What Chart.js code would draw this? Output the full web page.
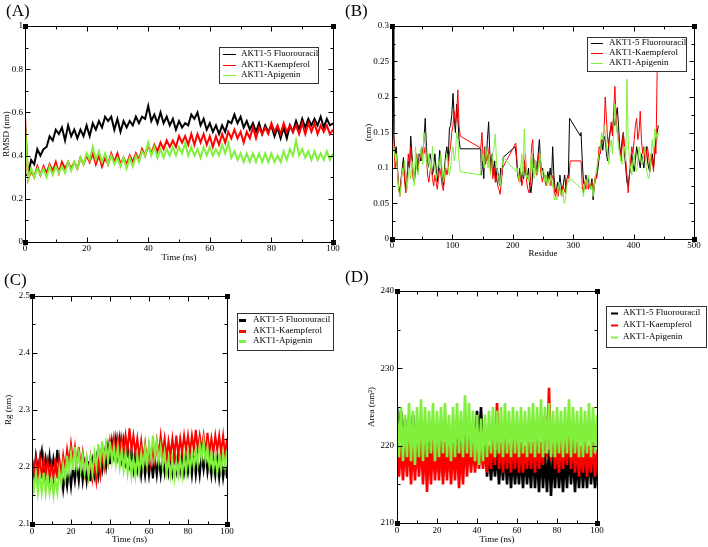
<!DOCTYPE html>
<html><head><meta charset="utf-8">
<script src="https://cdn.jsdelivr.net/npm/chart.js@4.4.1/dist/chart.umd.min.js"></script>
<style>
html,body{margin:0;padding:0;background:#fff;}
body{width:708px;height:547px;position:relative;overflow:hidden;}
canvas{position:absolute;}
</style></head><body>
<canvas id="cA" width="354" height="270" style="left:0;top:0"></canvas>
<canvas id="cB" width="368" height="270" style="left:340px;top:0"></canvas>
<canvas id="cC" width="354" height="285" style="left:0;top:262px"></canvas>
<canvas id="cD" width="368" height="285" style="left:340px;top:262px"></canvas>
<script>
// ---------------- DATA ----------------
const seriesNames = ['AKT1-5 Fluorouracil', 'AKT1-Kaempferol', 'AKT1-Apigenin'];

const timeNs = [0,1,2,3,4,5,6,7,8,9,10,11,12,13,14,15,16,17,18,19,20,21,22,23,24,25,26,27,28,29,30,31,32,33,34,35,36,37,38,39,40,41,42,43,44,45,46,47,48,49,50,51,52,53,54,55,56,57,58,59,60,61,62,63,64,65,66,67,68,69,70,71,72,73,74,75,76,77,78,79,80,81,82,83,84,85,86,87,88,89,90,91,92,93,94,95,96,97,98,99,100];

// (A) RMSD (nm)
const rmsdFU = [0.31,0.31,0.38,0.36,0.43,0.40,0.43,0.44,0.49,0.47, 0.52,0.50,0.53,0.47,0.54,0.49,0.52,0.48,0.52,0.49, 0.54,0.49,0.55,0.52,0.56,0.53,0.58,0.56,0.58,0.52, 0.57,0.51,0.56,0.53,0.56,0.54,0.58,0.55,0.58,0.57, 0.63,0.56,0.59,0.55,0.60,0.55,0.58,0.54,0.57,0.52, 0.56,0.53,0.55,0.54,0.59,0.57,0.60,0.54,0.57,0.52, 0.55,0.51,0.54,0.50,0.54,0.51,0.56,0.55,0.59,0.55, 0.58,0.53,0.56,0.52,0.55,0.51,0.55,0.50,0.54,0.51, 0.54,0.49,0.53,0.48,0.53,0.48,0.54,0.51,0.56,0.52, 0.57,0.53,0.57,0.54,0.57,0.54,0.58,0.53,0.57,0.54, 0.55];
const rmsdKAE = [0.58,0.29,0.33,0.30,0.35,0.31,0.35,0.32,0.36,0.33, 0.37,0.32,0.37,0.34,0.37,0.34,0.37,0.34,0.39,0.36, 0.40,0.37,0.41,0.36,0.40,0.35,0.39,0.36,0.41,0.37, 0.41,0.36,0.39,0.36,0.40,0.37,0.41,0.38,0.43,0.40, 0.45,0.41,0.45,0.42,0.46,0.43,0.47,0.44,0.47,0.44, 0.49,0.46,0.49,0.45,0.50,0.45,0.50,0.46,0.50,0.45, 0.49,0.44,0.49,0.45,0.50,0.46,0.51,0.48,0.52,0.48, 0.51,0.46,0.51,0.48,0.53,0.48,0.53,0.50,0.53,0.50, 0.55,0.51,0.54,0.50,0.55,0.51,0.54,0.51,0.54,0.50, 0.55,0.50,0.55,0.51,0.55,0.50,0.54,0.51,0.54,0.50, 0.52];
const rmsdAPI = [0.55,0.29,0.34,0.30,0.34,0.31,0.34,0.30,0.35,0.31, 0.35,0.32,0.35,0.32,0.37,0.33,0.37,0.34,0.39,0.36, 0.41,0.38,0.44,0.38,0.42,0.37,0.41,0.36,0.40,0.36, 0.39,0.35,0.39,0.34,0.39,0.35,0.40,0.37,0.42,0.40, 0.46,0.40,0.44,0.39,0.43,0.39,0.43,0.40,0.44,0.40, 0.44,0.41,0.46,0.40,0.44,0.40,0.43,0.39,0.44,0.40, 0.44,0.40,0.43,0.40,0.45,0.41,0.46,0.39,0.42,0.38, 0.41,0.37,0.41,0.37,0.41,0.37,0.41,0.37,0.41,0.37, 0.41,0.37,0.40,0.37,0.42,0.38,0.43,0.40,0.47,0.40, 0.43,0.39,0.42,0.38,0.42,0.38,0.41,0.38,0.42,0.38, 0.41];

// (B) RMSF per residue: [residue, nm]
const rmsfFU = [[1,0.30],[2,0.30],[3,0.15],[5,0.12],[7,0.13],[9,0.10],[11,0.075],[13,0.065],[15,0.085],[17,0.10],[19,0.115],[21,0.09],[23,0.07],[25,0.085],[27,0.11],[29,0.10],[31,0.145],[33,0.12],[35,0.09],[37,0.085],[39,0.10],[41,0.11],[43,0.095],[45,0.12],[47,0.11],[49,0.13],[51,0.12],[53,0.14],[55,0.17],[57,0.13],[59,0.10],[61,0.105],[63,0.12],[65,0.11],[67,0.09],[69,0.10],[71,0.12],[73,0.10],[75,0.08],[77,0.10],[79,0.125],[81,0.11],[83,0.09],[85,0.075],[87,0.10],[89,0.12],[91,0.13],[93,0.11],[95,0.155],[97,0.16],[99,0.175],[101,0.205],[103,0.17],[105,0.15],[107,0.19],[109,0.17],[111,0.14],[113,0.127],[147,0.127],[148,0.09],[150,0.11],[152,0.085],[154,0.13],[156,0.11],[158,0.14],[160,0.165],[162,0.12],[164,0.10],[166,0.12],[168,0.09],[170,0.11],[172,0.08],[174,0.10],[176,0.09],[178,0.075],[180,0.10],[182,0.09],[184,0.115],[204,0.13],[206,0.115],[208,0.09],[210,0.085],[212,0.10],[214,0.08],[216,0.095],[218,0.085],[220,0.11],[222,0.09],[224,0.085],[226,0.10],[228,0.075],[230,0.065],[232,0.08],[234,0.12],[236,0.10],[238,0.11],[240,0.09],[242,0.12],[244,0.14],[246,0.11],[248,0.095],[250,0.10],[252,0.085],[254,0.09],[256,0.08],[258,0.095],[260,0.085],[262,0.10],[264,0.08],[266,0.13],[268,0.09],[270,0.07],[272,0.065],[274,0.08],[276,0.07],[278,0.09],[280,0.075],[282,0.065],[284,0.08],[286,0.09],[288,0.07],[290,0.085],[292,0.09],[294,0.17],[312,0.145],[313,0.15],[315,0.11],[317,0.08],[319,0.075],[321,0.09],[323,0.08],[325,0.085],[327,0.075],[329,0.07],[331,0.085],[333,0.055],[335,0.075],[337,0.085],[339,0.09],[341,0.10],[343,0.115],[345,0.13],[347,0.14],[349,0.125],[351,0.14],[353,0.145],[355,0.12],[357,0.11],[359,0.14],[361,0.15],[363,0.16],[365,0.15],[367,0.17],[369,0.16],[371,0.175],[373,0.185],[375,0.16],[377,0.13],[379,0.12],[381,0.14],[383,0.15],[385,0.12],[387,0.10],[389,0.08],[391,0.075],[393,0.09],[395,0.10],[397,0.12],[399,0.105],[401,0.095],[403,0.11],[405,0.13],[407,0.12],[409,0.11],[411,0.10],[413,0.12],[415,0.11],[417,0.10],[419,0.12],[421,0.13],[423,0.11],[425,0.10],[427,0.095],[429,0.11],[431,0.12],[433,0.10],[435,0.12],[437,0.14],[439,0.15],[441,0.16]];
const rmsfKAE = [[1,0.175],[3,0.14],[5,0.10],[7,0.11],[9,0.10],[11,0.07],[13,0.06],[15,0.08],[17,0.095],[19,0.105],[21,0.08],[23,0.065],[25,0.09],[27,0.12],[29,0.10],[31,0.13],[33,0.11],[35,0.085],[37,0.08],[39,0.095],[41,0.12],[43,0.10],[45,0.11],[47,0.12],[49,0.11],[51,0.125],[53,0.12],[55,0.13],[57,0.115],[59,0.09],[61,0.08],[63,0.095],[65,0.105],[67,0.085],[69,0.075],[71,0.09],[73,0.08],[75,0.07],[77,0.085],[79,0.10],[81,0.09],[83,0.075],[85,0.068],[87,0.085],[89,0.10],[91,0.09],[93,0.10],[95,0.12],[97,0.13],[99,0.15],[101,0.16],[103,0.18],[105,0.16],[107,0.175],[109,0.21],[111,0.16],[113,0.145],[147,0.128],[149,0.15],[151,0.11],[153,0.125],[155,0.105],[157,0.12],[159,0.11],[161,0.13],[163,0.095],[165,0.11],[167,0.085],[169,0.10],[171,0.08],[173,0.09],[175,0.075],[177,0.07],[179,0.063],[181,0.08],[183,0.10],[205,0.135],[207,0.11],[209,0.085],[211,0.08],[213,0.09],[215,0.075],[217,0.085],[219,0.10],[221,0.12],[223,0.08],[225,0.07],[227,0.065],[229,0.075],[231,0.13],[233,0.14],[235,0.10],[237,0.11],[239,0.09],[241,0.10],[243,0.12],[245,0.105],[247,0.09],[249,0.08],[251,0.09],[253,0.085],[255,0.075],[257,0.09],[259,0.08],[261,0.09],[263,0.075],[265,0.085],[267,0.09],[269,0.065],[271,0.06],[273,0.07],[275,0.06],[277,0.075],[279,0.065],[281,0.06],[283,0.075],[285,0.07],[287,0.065],[289,0.08],[291,0.09],[293,0.085],[295,0.11],[313,0.11],[315,0.075],[317,0.065],[319,0.08],[321,0.07],[323,0.085],[325,0.07],[327,0.08],[329,0.075],[331,0.08],[333,0.065],[335,0.08],[337,0.09],[339,0.085],[341,0.11],[343,0.13],[345,0.12],[347,0.135],[349,0.14],[351,0.15],[353,0.20],[355,0.17],[357,0.14],[359,0.13],[361,0.15],[363,0.165],[365,0.145],[367,0.18],[369,0.215],[371,0.17],[373,0.15],[375,0.14],[377,0.13],[379,0.11],[381,0.13],[383,0.15],[385,0.13],[387,0.11],[389,0.09],[391,0.065],[393,0.09],[395,0.11],[397,0.13],[399,0.12],[401,0.14],[403,0.16],[405,0.17],[407,0.14],[409,0.15],[411,0.18],[413,0.14],[415,0.12],[417,0.13],[419,0.11],[421,0.12],[423,0.13],[425,0.115],[427,0.10],[429,0.12],[431,0.11],[433,0.095],[435,0.13],[437,0.12],[439,0.235]];
const rmsfAPI = [[1,0.125],[3,0.13],[5,0.115],[7,0.12],[9,0.095],[11,0.07],[13,0.06],[15,0.075],[17,0.10],[19,0.09],[21,0.11],[23,0.085],[25,0.07],[27,0.09],[29,0.10],[31,0.085],[33,0.11],[35,0.095],[37,0.075],[39,0.13],[41,0.10],[43,0.09],[45,0.11],[47,0.12],[49,0.13],[51,0.105],[53,0.15],[55,0.14],[57,0.11],[59,0.10],[61,0.12],[63,0.105],[65,0.095],[67,0.13],[69,0.11],[71,0.10],[73,0.085],[75,0.095],[77,0.11],[79,0.10],[81,0.12],[83,0.095],[85,0.08],[87,0.09],[89,0.11],[91,0.12],[93,0.10],[95,0.09],[97,0.10],[99,0.12],[101,0.13],[103,0.11],[105,0.12],[107,0.15],[109,0.14],[111,0.11],[113,0.095],[147,0.09],[149,0.11],[151,0.12],[153,0.10],[155,0.13],[157,0.115],[159,0.10],[161,0.12],[163,0.09],[165,0.10],[167,0.12],[169,0.13],[171,0.148],[173,0.11],[175,0.09],[177,0.085],[179,0.075],[181,0.09],[183,0.11],[185,0.115],[205,0.095],[207,0.10],[209,0.09],[211,0.08],[213,0.10],[215,0.12],[217,0.09],[219,0.155],[221,0.11],[223,0.085],[225,0.09],[227,0.08],[229,0.10],[231,0.12],[233,0.10],[235,0.085],[237,0.11],[239,0.095],[241,0.09],[243,0.105],[245,0.12],[247,0.10],[249,0.09],[251,0.10],[253,0.08],[255,0.09],[257,0.075],[259,0.085],[261,0.075],[263,0.09],[265,0.08],[267,0.07],[269,0.055],[271,0.06],[273,0.055],[275,0.07],[277,0.08],[279,0.065],[281,0.06],[283,0.07],[285,0.05],[287,0.055],[289,0.07],[291,0.085],[293,0.08],[295,0.085],[315,0.07],[317,0.06],[319,0.075],[321,0.085],[323,0.075],[325,0.09],[327,0.08],[329,0.07],[331,0.075],[333,0.06],[335,0.075],[337,0.09],[339,0.10],[341,0.11],[343,0.12],[345,0.13],[347,0.15],[349,0.14],[351,0.16],[353,0.15],[355,0.13],[357,0.12],[359,0.105],[361,0.13],[363,0.14],[365,0.12],[367,0.15],[369,0.19],[371,0.16],[373,0.15],[375,0.13],[377,0.12],[379,0.11],[381,0.105],[383,0.12],[385,0.13],[387,0.11],[389,0.225],[391,0.14],[393,0.11],[395,0.10],[397,0.09],[399,0.11],[401,0.12],[403,0.10],[405,0.095],[407,0.11],[409,0.13],[411,0.12],[413,0.105],[415,0.11],[417,0.12],[419,0.13],[421,0.10],[423,0.09],[425,0.085],[427,0.095],[429,0.12],[431,0.14],[433,0.12],[435,0.155],[437,0.15],[439,0.14],[441,0.15]];

// (C) Rg (nm)
const rgFU = [2.215,2.185,2.22,2.195,2.215,2.23,2.185,2.215,2.19,2.22, 2.185,2.215,2.195,2.23,2.19,2.195,2.16,2.19,2.165,2.195, 2.165,2.20,2.175,2.205,2.175,2.21,2.175,2.205,2.175,2.21, 2.175,2.21,2.185,2.215,2.185,2.22,2.195,2.225,2.20,2.235, 2.205,2.245,2.22,2.25,2.22,2.25,2.215,2.245,2.21,2.235, 2.205,2.23,2.195,2.225,2.195,2.22,2.185,2.215,2.185,2.215, 2.185,2.215,2.18,2.215,2.185,2.215,2.185,2.215,2.19,2.225, 2.19,2.215,2.19,2.225,2.195,2.23,2.195,2.225,2.19,2.215, 2.19,2.215,2.185,2.22,2.185,2.215,2.185,2.22,2.195,2.225, 2.19,2.215,2.185,2.215,2.185,2.215,2.18,2.21,2.18,2.205, 2.18];
const rgKAE = [2.215,2.19,2.215,2.185,2.215,2.18,2.215,2.185,2.21,2.18, 2.205,2.18,2.215,2.18,2.215,2.185,2.22,2.195,2.23,2.205, 2.24,2.21,2.235,2.20,2.235,2.20,2.225,2.19,2.215,2.185, 2.215,2.18,2.205,2.175,2.21,2.185,2.225,2.20,2.235,2.21, 2.245,2.22,2.25,2.22,2.25,2.225,2.25,2.22,2.255,2.23, 2.268,2.23,2.255,2.225,2.25,2.215,2.245,2.21,2.24,2.205, 2.235,2.205,2.235,2.21,2.245,2.22,2.255,2.225,2.25,2.215, 2.245,2.22,2.25,2.22,2.255,2.22,2.25,2.225,2.255,2.23, 2.255,2.225,2.255,2.23,2.265,2.23,2.255,2.23,2.255,2.225, 2.26,2.225,2.25,2.225,2.255,2.23,2.255,2.225,2.255,2.22, 2.25];
const rgAPI = [2.185,2.16,2.19,2.155,2.185,2.155,2.19,2.155,2.185,2.155, 2.18,2.15,2.18,2.155,2.195,2.17,2.205,2.18,2.22,2.19, 2.225,2.195,2.235,2.20,2.225,2.195,2.22,2.19,2.215,2.185, 2.215,2.19,2.225,2.20,2.24,2.21,2.245,2.21,2.24,2.21, 2.245,2.21,2.235,2.205,2.235,2.20,2.23,2.195,2.225,2.19, 2.22,2.185,2.215,2.185,2.22,2.19,2.225,2.20,2.235,2.205, 2.24,2.215,2.255,2.22,2.245,2.21,2.235,2.20,2.225,2.19, 2.215,2.185,2.215,2.18,2.21,2.185,2.215,2.185,2.22,2.19, 2.225,2.195,2.225,2.20,2.23,2.205,2.24,2.215,2.245,2.21, 2.235,2.20,2.225,2.195,2.22,2.19,2.22,2.195,2.225,2.20, 2.23];

// (D) SASA (nm^2)
const sasaFU = [225,221,224.5,220,223.5,219.5,223,219,224,218.5, 222,218,223.5,217.5,221.5,217,221,217,221,216.5, 220.5,216.5,221,216,220.5,216.5,221,216.5,220.5,217, 221,217,221.5,217.5,222,218,222.5,218,223,219, 224.5,220,225,219,222,216,219.5,215.5,219,216, 219.5,215,219,215.5,219.5,215,219,214.5,219,215, 218.5,215,219,214.5,219,215,218.5,214.5,219.5,214.5, 219,214,219.5,214.5,219,214,219.5,213.5,219,214.5, 219,214.5,218.5,214,219,214.5,219.5,215,219,214, 218.5,214.5,219,214.5,218.5,214.5,219,215,218.5,214.5, 218];
const sasaKAE = [221,216,220,215.5,220.5,216,221,215,220,215.5, 220.5,216,221,215,220.5,214,220,215,221,215.5, 220.5,215.5,221,215,220.5,215.5,221,215,220,215.5, 220.5,214.5,220,215,221,216,220.5,216.5,220,216.5, 219.5,217,220,217,219.5,216.5,220,217,221,217.5, 225.5,217,220.5,216.5,221,217,220.5,216.5,221,217, 221,216.5,220.5,216.5,220,217,220.5,217,220.5,216.5, 221,217,220.5,217.5,224,218.5,227.5,218,223,217, 220.5,216.5,221,217,221,217.5,222,217,221,216.5, 220.5,216,220,216.5,220.5,216,220,216.5,220.5,216, 219.5];
const sasaAPI = [224.5,218.5,225,218,224,218.5,225.5,218,224.5,217.5, 225,218.5,226,218,225,218.5,224.5,219,225.5,218, 224.5,218.5,225,219,225.5,218.5,224,218,225,218.5, 225.5,219,224.5,218.5,226.5,219,225.5,218.5,224.5,218, 224,217.5,223.5,218,224,218.5,224.5,219,225,218.5, 224.5,219,225,218.5,225.5,219,224.5,218.5,225,219, 224.5,218.5,225,219,224.5,218.5,225,219,225.5,218.5, 225,219,226,218.5,225,219,225.5,218.5,224.5,218.5, 225,219,224.5,218.5,225,219,226,218.5,225,219, 224.5,218.5,225,218.5,224.5,219,225.5,218.5,225,219, 224];

// Tick values / labels
const timeTicks = [0,20,40,60,80,100];
const timeLabels = ['0','20','40','60','80','100'];
const rmsdTicks = [0,0.2,0.4,0.6,0.8,1];
const rmsdLabels = ['0','0.2','0.4','0.6','0.8','1'];
const residueTicks = [0,100,200,300,400,500];
const residueLabels = ['0','100','200','300','400','500'];
const rmsfTicks = [0,0.05,0.1,0.15,0.2,0.25,0.3];
const rmsfLabels = ['0','0.05','0.1','0.15','0.2','0.25','0.3'];
const rgTicks = [2.1,2.2,2.3,2.4,2.5];
const rgLabels = ['2.1','2.2','2.3','2.4','2.5'];
const sasaTicks = [210,220,230,240];
const sasaLabels = ['210','220','230','240'];

// ---------------- RENDERING ----------------
Chart.defaults.font.family = "'Liberation Serif','Times New Roman',serif";
Chart.defaults.font.size = 9;
Chart.defaults.color = '#000';
const COLORS = ['#000000', '#ff0000', '#80f03c'];

const xmgrace = {
  id: 'xmgrace',
  afterDatasetsDraw(chart, args, o) {
    const {ctx, chartArea: a, scales: {x, y}} = chart;
    ctx.save();
    ctx.strokeStyle = '#000'; ctx.lineWidth = 1;
    const L = Math.round(a.left) + 0.5, R = Math.round(a.right) + 0.5, T = Math.round(a.top) + 0.5, B = Math.round(a.bottom) + 0.5;
    ctx.beginPath(); ctx.rect(L, T, R - L, B - T); ctx.stroke();
    const seg = (x1, y1, x2, y2) => { ctx.beginPath(); ctx.moveTo(x1, y1); ctx.lineTo(x2, y2); ctx.stroke(); };
    const xv = x.ticks.map(t => t.value), yv = y.ticks.map(t => t.value);
    const withMinor = vals => { const out = []; vals.forEach((v, i) => { out.push([v, 1]); if (i < vals.length - 1) out.push([(v + vals[i + 1]) / 2, 0]); }); return out; };
    withMinor(xv).forEach(([v, maj]) => { const p = Math.round(x.getPixelForValue(v)) + 0.5; const l = maj ? 5 : 3; seg(p, B, p, B - l); seg(p, T, p, T + l); });
    withMinor(yv).forEach(([v, maj]) => { const p = Math.round(y.getPixelForValue(v)) + 0.5; const l = maj ? 5 : 3; seg(L, p, L + l, p); seg(R, p, R - l, p); });
    ctx.fillStyle = '#000';
    [[L, T], [R, T], [L, B], [R, B]].forEach(([cx, cy]) => ctx.fillRect(cx - 2.5, cy - 2.5, 5, 5));
    // legend
    const lg = o.legend;
    ctx.strokeStyle = '#333'; ctx.lineWidth = 1;
    ctx.strokeRect(lg.x + 0.5, lg.y + 0.5, lg.w, lg.h);
    ctx.font = "9px 'Liberation Serif'"; ctx.textBaseline = 'middle'; ctx.textAlign = 'left';
    chart.data.datasets.forEach((d, i) => {
      const ry = lg.rows[i];
      ctx.strokeStyle = d.borderColor; ctx.lineWidth = lg.sw;
      seg(lg.s1, ry + 0.5, lg.s2, ry + 0.5);
      ctx.fillStyle = '#000';
      ctx.fillText(d.label, lg.tx, ry);
    });
    // panel label
    ctx.font = "17px 'Liberation Serif'"; ctx.textBaseline = 'alphabetic';
    ctx.fillText(o.panel.text, o.panel.x, o.panel.y);
    ctx.restore();
  }
};

function makeChart(id, c) {
  const datasets = c.series.map((pts, i) => ({
    label: seriesNames[i], data: pts,
    borderColor: COLORS[i], backgroundColor: COLORS[i],
    borderWidth: c.lw, pointRadius: 0, tension: 0, fill: false, order: 3 - i
  }));
  return new Chart(document.getElementById(id), {
    type: 'line',
    data: {datasets},
    options: {
      responsive: false, animation: false, devicePixelRatio: 1, normalized: true,
      layout: {padding: {top: c.pad[0], right: c.pad[1], bottom: 0, left: 0}},
      plugins: {legend: {display: false}, tooltip: {enabled: false}, xmgrace: {legend: c.legend, panel: c.panel}},
      scales: {
        x: {type: 'linear', min: c.xr[0], max: c.xr[1],
          afterBuildTicks: s => { s.ticks = c.xt.map(v => ({value: v})); },
          afterFit: s => { s.height = c.xh; },
          grid: {display: false, drawTicks: false}, border: {display: false},
          ticks: {padding: c.xtp, autoSkip: false, maxRotation: 0, color: '#000', callback: (v, i) => c.xl[i]},
          title: {display: true, text: c.xTitle, color: '#000', padding: {top: c.xTp, bottom: c.xTp}}},
        y: {type: 'linear', min: c.yr[0], max: c.yr[1],
          afterBuildTicks: s => { s.ticks = c.yt.map(v => ({value: v})); },
          afterFit: s => { s.width = c.yw; },
          grid: {display: false, drawTicks: false}, border: {display: false},
          ticks: {padding: c.ytp, autoSkip: false, color: '#000', callback: (v, i) => c.yl[i]},
          title: {display: true, text: c.yTitle, color: '#000', padding: {top: c.yTp, bottom: c.yTp}}}
      }
    },
    plugins: [xmgrace]
  });
}

const toPts = (xs, ys) => ys.map((v, i) => ({x: xs[i], y: v}));
const pairPts = arr => arr.map(p => ({x: p[0], y: p[1]}));

makeChart('cA', {
  series: [toPts(timeNs, rmsdFU), toPts(timeNs, rmsdKAE), toPts(timeNs, rmsdAPI)], lw: 2,
  pad: [26, 21], xh: 28, yw: 25, xr: [0, 100], yr: [0, 1],
  xt: timeTicks, xl: timeLabels, yt: rmsdTicks, yl: rmsdLabels,
  xTitle: 'Time (ns)', yTitle: 'RMSD (nm)', xtp: 1, ytp: 2, xTp: 6.6, yTp: 1.6,
  legend: {x: 219, y: 47, w: 99, h: 36, rows: [54, 65, 75], s1: 223, s2: 236, tx: 241, sw: 1},
  panel: {text: '(A)', x: 6, y: 16}
});
makeChart('cB', {
  series: [pairPts(rmsfFU), pairPts(rmsfKAE), pairPts(rmsfAPI)], lw: 1,
  pad: [26, 14], xh: 31, yw: 52, xr: [0, 500], yr: [0, 0.3],
  xt: residueTicks, xl: residueLabels, yt: rmsfTicks, yl: rmsfLabels,
  xTitle: 'Residue', yTitle: '(nm)', xtp: 1, ytp: 3, xTp: 10.6, yTp: 23.6,
  legend: {x: 247, y: 37, w: 99, h: 34, rows: [43, 53, 63], s1: 251, s2: 263, tx: 269, sw: 1},
  panel: {text: '(B)', x: 5, y: 16}
});
makeChart('cC', {
  series: [toPts(timeNs, rgFU), toPts(timeNs, rgKAE), toPts(timeNs, rgAPI)], lw: 2,
  pad: [34, 127], xh: 23, yw: 32, xr: [0, 100], yr: [2.1, 2.5],
  xt: timeTicks, xl: timeLabels, yt: rgTicks, yl: rgLabels,
  xTitle: 'Time (ns)', yTitle: 'Rg (nm)', xtp: 2, ytp: 2, xTp: 1.6, yTp: 3.6,
  legend: {x: 237, y: 51, w: 96, h: 37, rows: [58, 69, 79], s1: 239, s2: 246, tx: 253, sw: 3},
  panel: {text: '(C)', x: 4, y: 23}
});
makeChart('cD', {
  series: [toPts(timeNs, sasaFU), toPts(timeNs, sasaKAE), toPts(timeNs, sasaAPI)], lw: 2.6,
  pad: [29, 111], xh: 24, yw: 57, xr: [0, 100], yr: [210, 240],
  xt: timeTicks, xl: timeLabels, yt: sasaTicks, yl: sasaLabels,
  xTitle: 'Time (ns)', yTitle: 'Area (nm²)', xtp: 2, ytp: 3, xTp: 1.6, yTp: 26.6,
  legend: {x: 266, y: 44, w: 100, h: 41, rows: [51, 63, 75], s1: 271, s2: 278, tx: 283, sw: 2},
  panel: {text: '(D)', x: 5, y: 20}
});
</script>
</body></html>
